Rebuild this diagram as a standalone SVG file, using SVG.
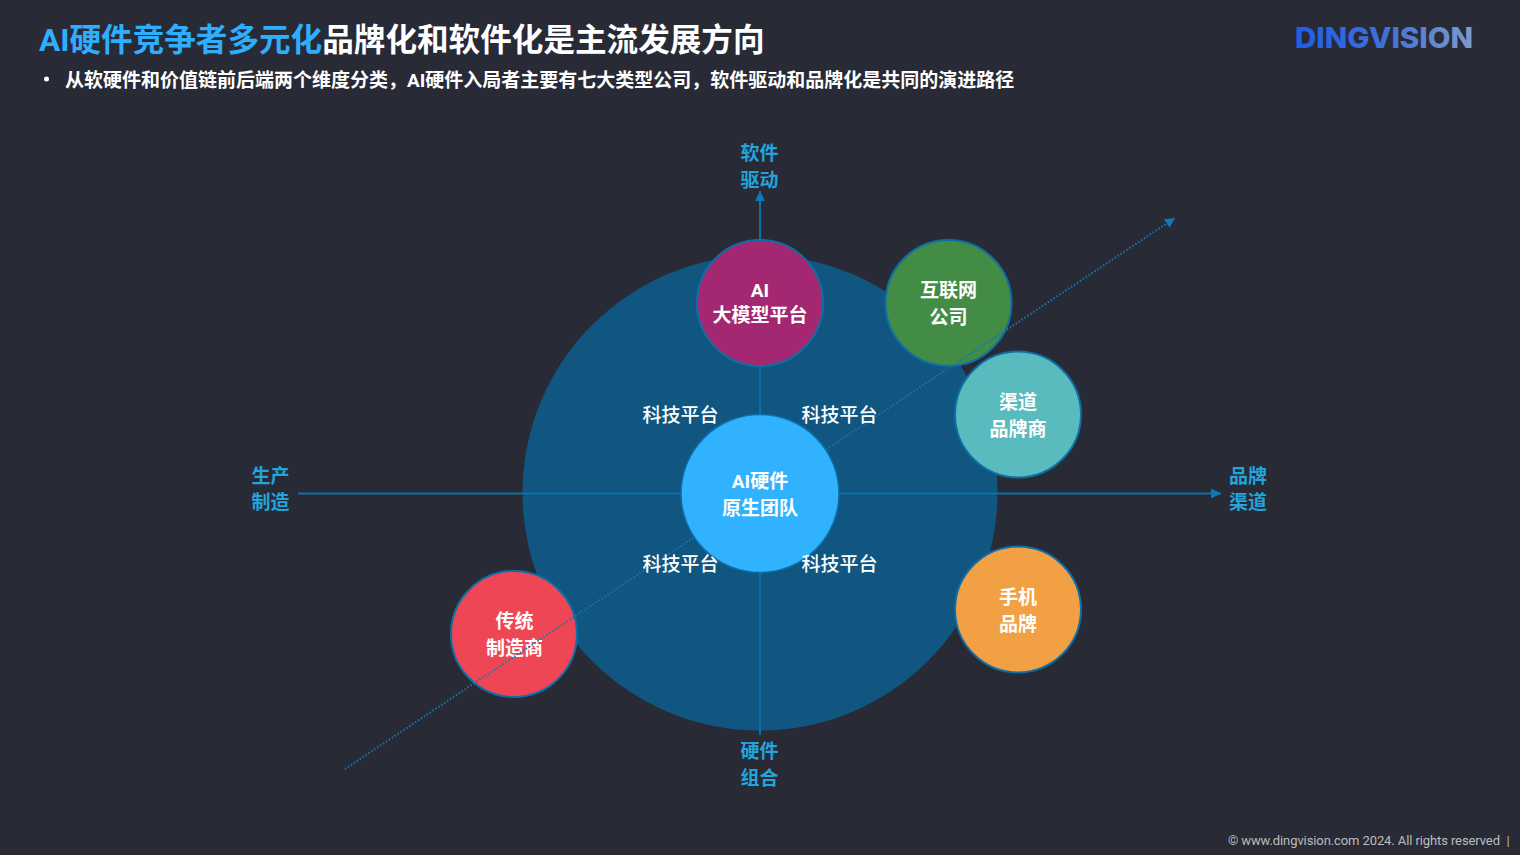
<svg xmlns="http://www.w3.org/2000/svg" width="1520" height="855" viewBox="0 0 1520 855">
<style>
text{font-family:"Roboto","Noto Sans CJK SC",sans-serif;font-weight:700;text-anchor:middle}
.axis{fill:#22a5dc;font-size:19px}
.node{fill:#fff;font-size:19px}
.sm{fill:#fff;font-size:19px;font-weight:500}
.ln{stroke:#0e70a8;stroke-width:2;fill:none}
.c{stroke:#0e6ea6;stroke-width:2}
</style>
<defs>
<marker id="ah" markerUnits="userSpaceOnUse" markerWidth="12" markerHeight="10" refX="10" refY="5" orient="auto"><path d="M0 0L10 5L0 10Z" fill="#0e78b8"/></marker>
<linearGradient id="lg" gradientUnits="userSpaceOnUse" x1="1295" y1="0" x2="1473" y2="0"><stop offset="0" stop-color="#1c5fe6"/><stop offset="0.5" stop-color="#3f70d8"/><stop offset="1" stop-color="#7e9bc8"/></linearGradient>
</defs>
<rect width="1520" height="855" fill="#282a36"/>
<g id="title">
<text x="39" y="50.500" style="text-anchor:start;font-size:31.600px"><tspan fill="#2eaefc">AI硬件竞争者多元化</tspan><tspan fill="#fff">品牌化和软件化是主流发展方向</tspan></text>
<circle cx="46.500" cy="79" r="2.500" fill="#fff"/>
<text x="65" y="86.500" fill="#fff" style="text-anchor:start;font-size:19px">从软硬件和价值链前后端两个维度分类，AI硬件入局者主要有七大类型公司，软件驱动和品牌化是共同的演进路径</text>
</g>
<text id="logo" x="1295" y="47.500" fill="url(#lg)" textLength="178" lengthAdjust="spacingAndGlyphs" style="text-anchor:start;font-family:Inter,'Noto Sans',sans-serif;font-size:29px;font-weight:800">DINGVISION</text>
<circle id="backdrop" cx="760" cy="493" r="237.500" fill="#105681"/>
<g id="connectors">
<path class="ln" d="M760 367V415M760 572V735"/>
<path class="ln" d="M760 240V191" marker-end="url(#ah)"/>
<path class="ln" d="M298 493.500H682"/>
<path class="ln" d="M838 493.500H1221" marker-end="url(#ah)"/>
</g>
<g id="n-ai"><circle class="c" cx="760" cy="303" r="63" fill="#a42871"/><text class="node" x="760" y="296.500">AI</text><text class="node" x="760" y="321.500">大模型平台</text></g>
<g id="n-net"><circle class="c" cx="948.500" cy="303" r="63" fill="#438c46"/><text class="node" x="948.500" y="296.500">互联网</text><text class="node" x="948.500" y="323.500">公司</text></g>
<g id="n-channel"><circle class="c" cx="1018" cy="414.500" r="63" fill="#5abbbe"/><text class="node" x="1018" y="408.500">渠道</text><text class="node" x="1018" y="435.500">品牌商</text></g>
<g id="n-phone"><circle class="c" cx="1018" cy="609.500" r="63" fill="#f2a044"/><text class="node" x="1018" y="603.500">手机</text><text class="node" x="1018" y="630.500">品牌</text></g>
<g id="n-mfg"><circle class="c" cx="514" cy="634" r="63" fill="#ee4655"/><text class="node" x="514.500" y="627.500">传统</text><text class="node" x="514.500" y="654.500">制造商</text></g>
<g id="dotted"><path d="M345 769L1175 218" stroke="#1478b0" stroke-width="2" stroke-dasharray="1.500 2" fill="none" marker-end="url(#ah)"/></g>
<g id="n-core"><circle cx="760" cy="493.500" r="79" fill="#30b2ff" stroke="#0e6ea6" stroke-width="1.500"/><text class="node" x="760" y="487.500">AI硬件</text><text class="node" x="760" y="514.500">原生团队</text></g>
<g id="labels">
<text class="sm" x="680.500" y="421.500">科技平台</text><text class="sm" x="839.500" y="421.500">科技平台</text>
<text class="sm" x="680.500" y="571">科技平台</text><text class="sm" x="839.500" y="571">科技平台</text>
<text class="axis" x="759.500" y="159.500">软件</text><text class="axis" x="759.500" y="186.500">驱动</text>
<text class="axis" x="759.500" y="757.500">硬件</text><text class="axis" x="759.500" y="784.500">组合</text>
<text class="axis" x="270.500" y="482.500">生产</text><text class="axis" x="270.500" y="508.500">制造</text>
<text class="axis" x="1248" y="482.500">品牌</text><text class="axis" x="1248" y="508.500">渠道</text>
</g>
<text id="footer" x="1228" y="845" fill="#bdbdbd" textLength="272" lengthAdjust="spacing" style="text-anchor:start;font-size:13px;font-weight:400">© www.dingvision.com 2024. All rights reserved</text>
<text x="1508" y="845" fill="#bdbdbd" style="font-size:13px;font-weight:400">|</text>
</svg>
